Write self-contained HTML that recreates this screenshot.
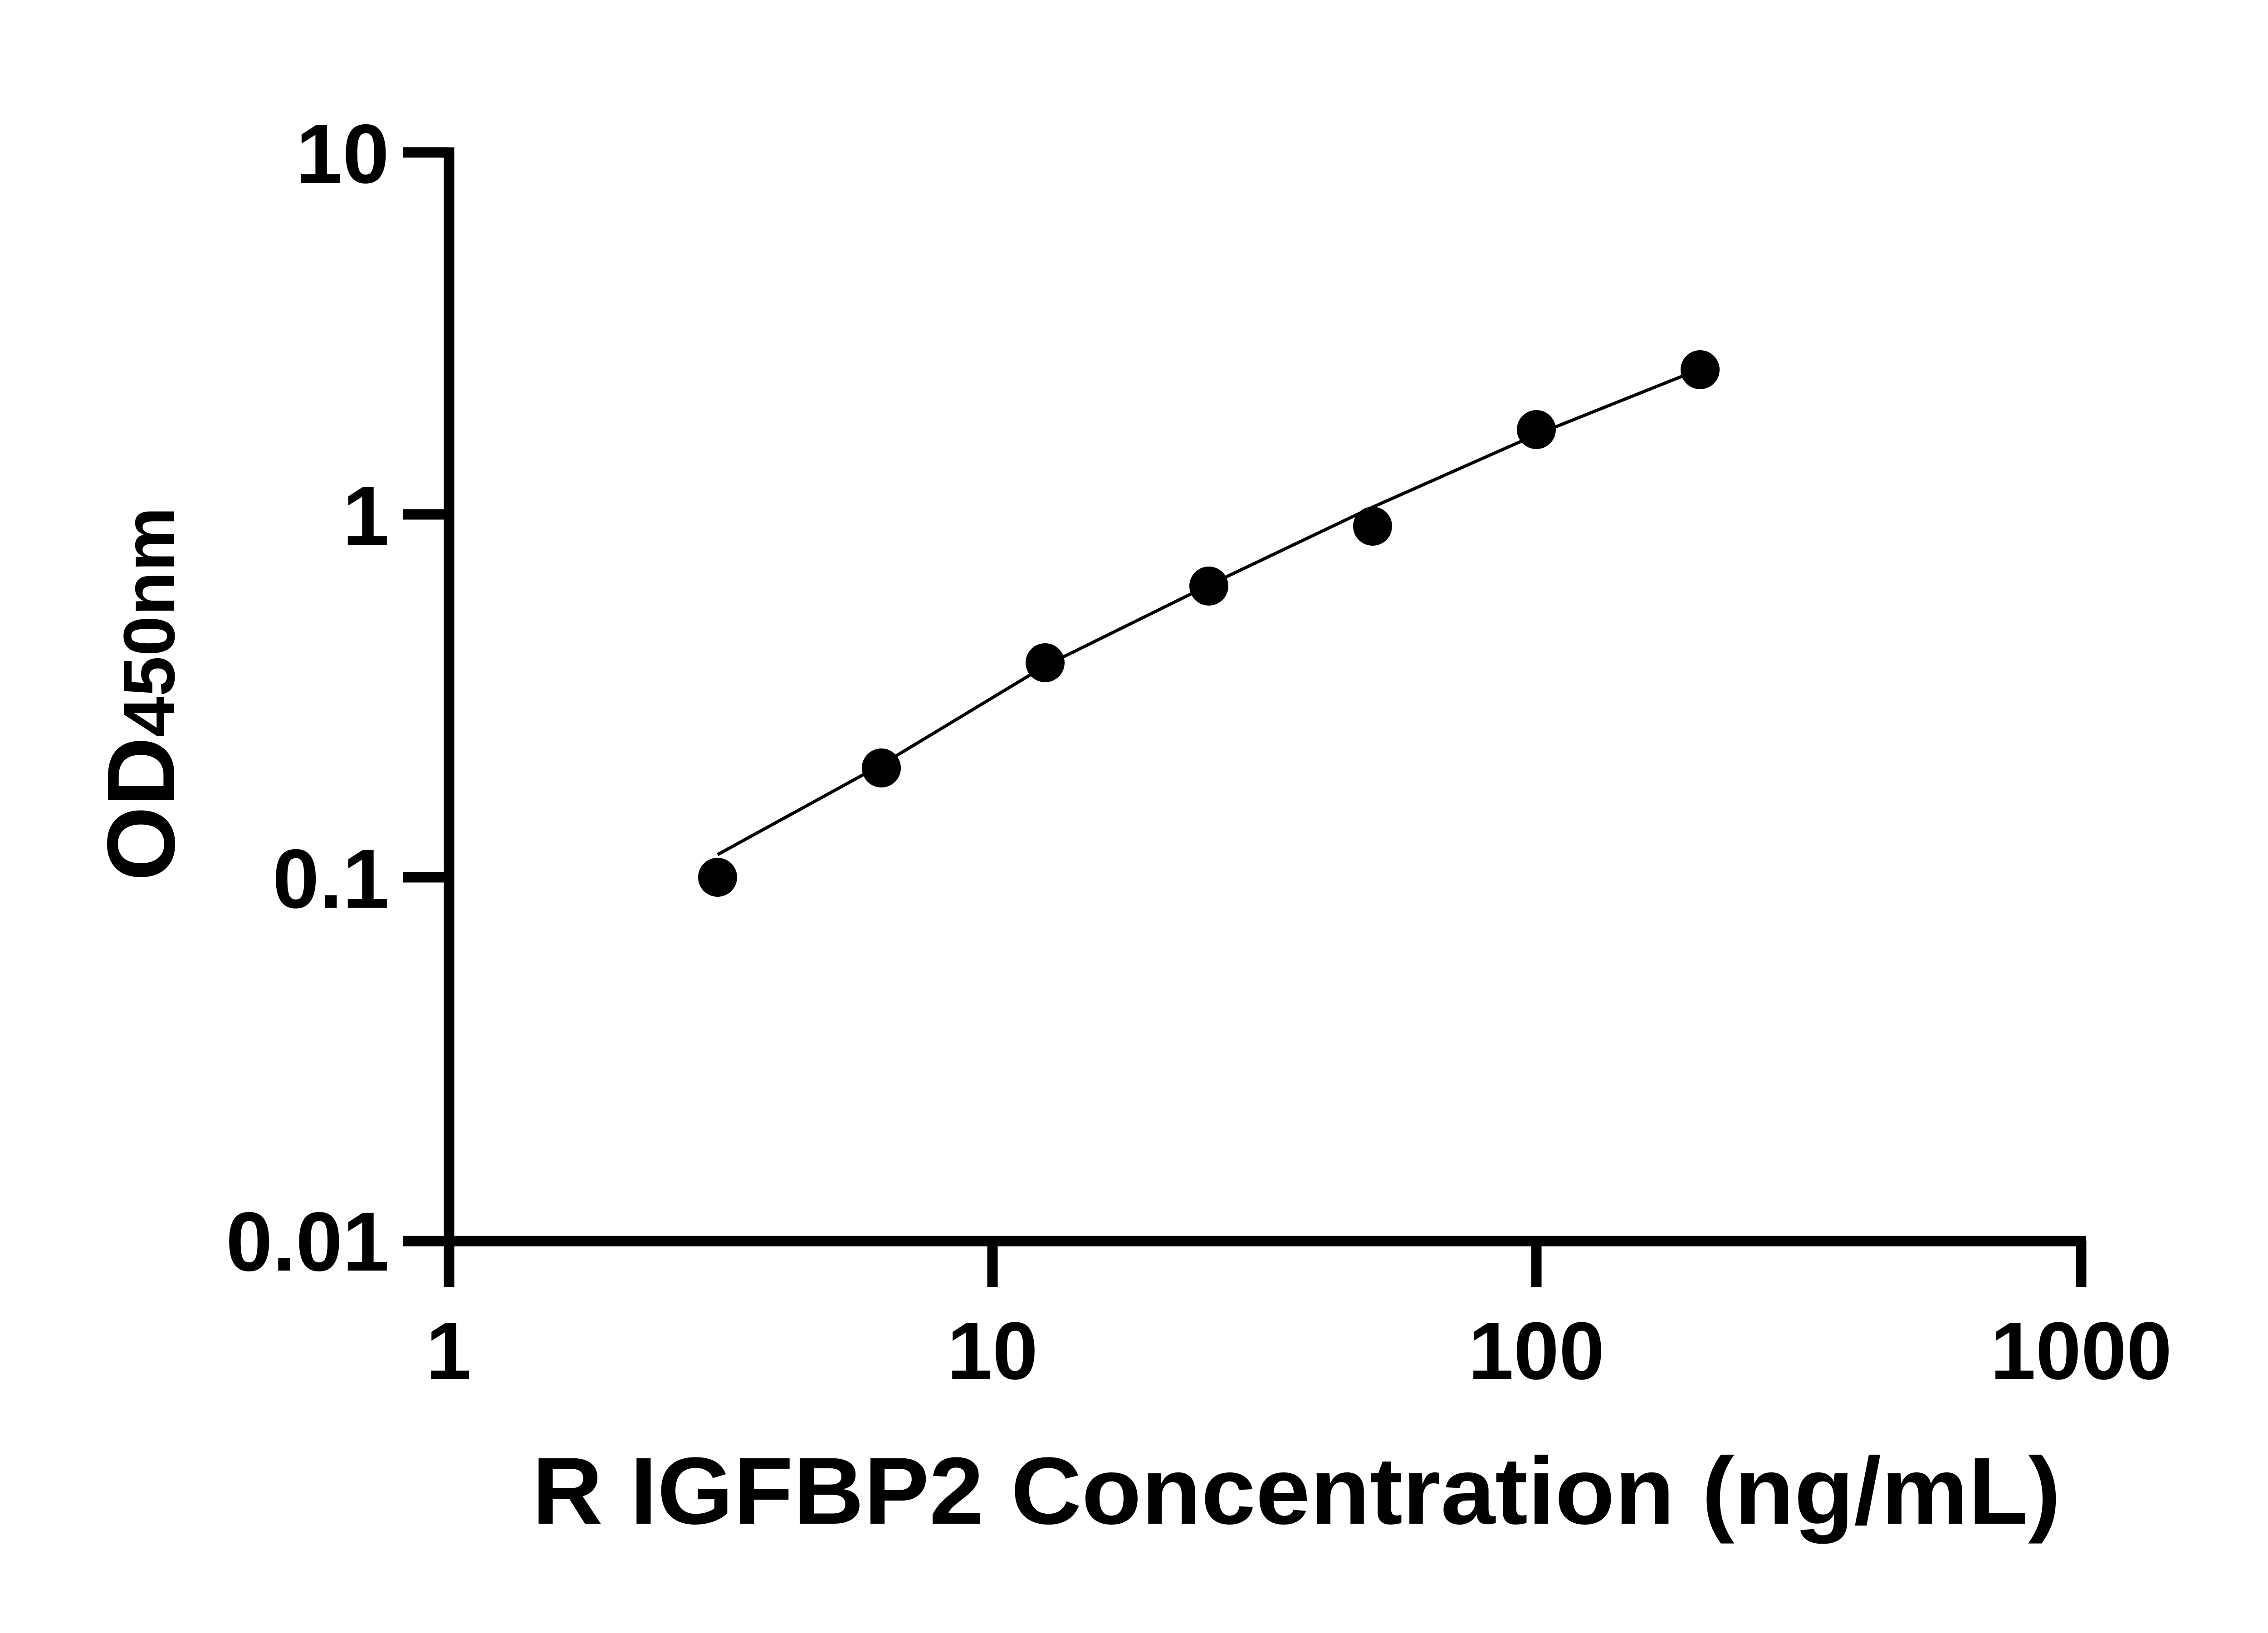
<!DOCTYPE html>
<html><head><style>html,body{margin:0;padding:0;background:#fff}svg{display:block}</style></head>
<body>
<svg width="5142" height="3600" viewBox="0 0 5142 3600" xmlns="http://www.w3.org/2000/svg" font-family="Liberation Sans, Arial, sans-serif" font-weight="bold">
<rect width="5142" height="3600" fill="#fff"/>
<g stroke="#000" stroke-width="23" fill="none">
<line x1="990" y1="325" x2="990" y2="2837"/>
<line x1="978" y1="2736" x2="4599" y2="2736"/>
<line x1="888" y1="336" x2="990" y2="336"/>
<line x1="888" y1="1134" x2="990" y2="1134"/>
<line x1="888" y1="1934" x2="990" y2="1934"/>
<line x1="888" y1="2736" x2="990" y2="2736"/>
<line x1="2188" y1="2736" x2="2188" y2="2837"/>
<line x1="3387" y1="2736" x2="3387" y2="2837"/>
<line x1="4588" y1="2736" x2="4588" y2="2837"/>
</g>
<polyline fill="none" stroke="#000" stroke-width="7" points="1582,1884 1943,1686 2304,1468 2665,1290 3026,1118 3387,958 3717,826"/>
<g fill="#000">
<circle cx="1582" cy="1934" r="43"/>
<circle cx="1943" cy="1693" r="43"/>
<circle cx="2304" cy="1461" r="43"/>
<circle cx="2665" cy="1292" r="43"/>
<circle cx="3026" cy="1160" r="43"/>
<circle cx="3387" cy="947" r="43"/>
<circle cx="3748" cy="815" r="43"/>
</g>
<g font-size="185" text-anchor="end">
<text x="858" y="403">10</text>
<text x="858" y="1201">1</text>
<text x="858" y="2001">0.1</text>
<text x="858" y="2801">0.01</text>
</g>
<g font-size="180" text-anchor="middle">
<text x="989" y="3040">1</text>
<text x="2188" y="3040">10</text>
<text x="3387" y="3040">100</text>
<text x="4588" y="3040">1000</text>
</g>
<text x="1173" y="3359" font-size="210" textLength="3370" lengthAdjust="spacingAndGlyphs">R IGFBP2 Concentration (ng/mL)</text>
<text transform="translate(384,1530) rotate(-90)" text-anchor="middle"><tspan font-size="212">OD</tspan><tspan font-size="160">450nm</tspan></text>
</svg>
</body></html>
